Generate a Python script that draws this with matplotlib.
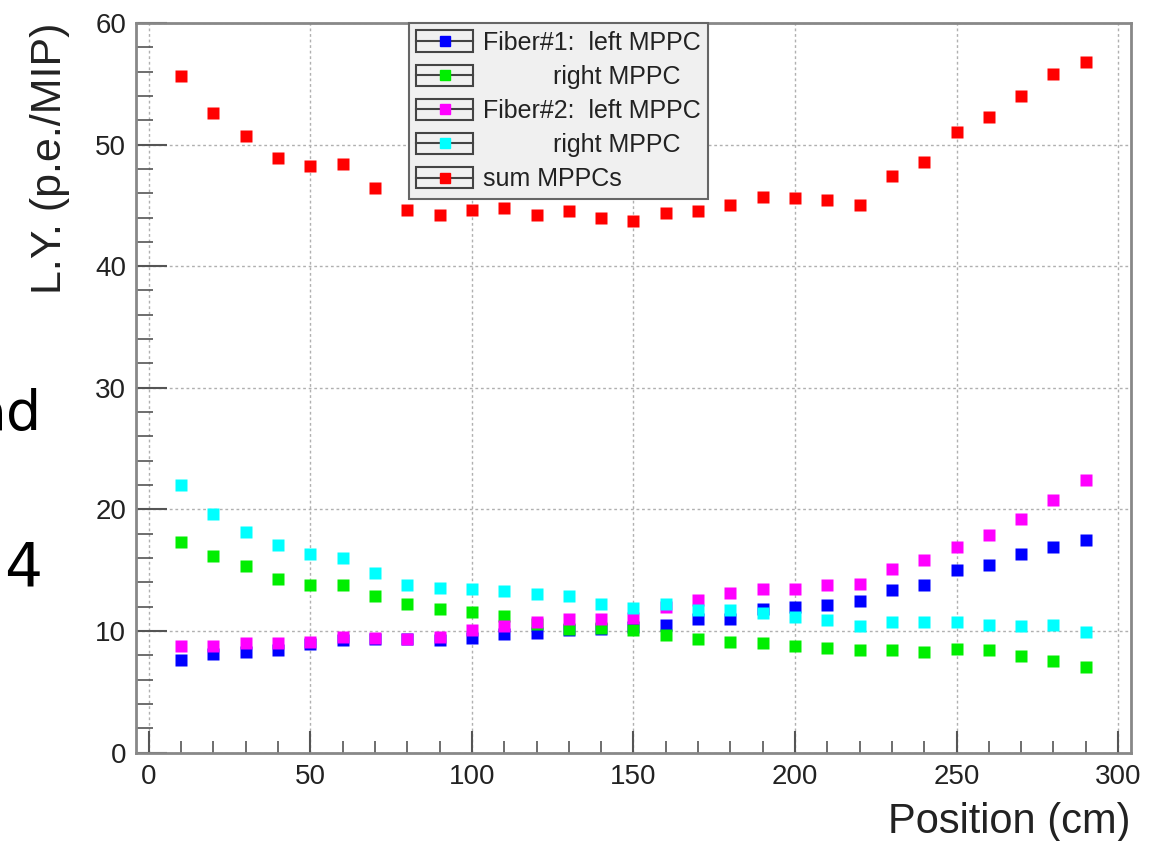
import matplotlib
matplotlib.use('Agg')
import matplotlib.pyplot as plt
from matplotlib.legend_handler import HandlerBase
from matplotlib.patches import Rectangle
from matplotlib.lines import Line2D
from matplotlib.ticker import MultipleLocator

plt.rcParams['font.family'] = ['Liberation Sans', 'DejaVu Sans']

# positions along the fiber (cm)
position = [10, 20, 30, 40, 50, 60, 70, 80, 90, 100, 110, 120, 130, 140, 150,
            160, 170, 180, 190, 200, 210, 220, 230, 240, 250, 260, 270, 280, 290]

# light yield (p.e./MIP)
fiber1_left = [7.65, 8.1, 8.3, 8.45, 8.9, 9.25, 9.3, 9.35, 9.25, 9.4, 9.75, 9.85, 10.05, 10.2, 10.3,
               10.5, 11.0, 11.0, 11.8, 12.0, 12.1, 12.45, 13.35, 13.8, 15.0, 15.45, 16.35, 16.9, 17.45]
fiber1_right = [17.3, 16.2, 15.3, 14.3, 13.8, 13.8, 12.85, 12.25, 11.8, 11.55, 11.25, 10.6, 10.2, 10.25, 10.1,
                9.65, 9.3, 9.05, 9.0, 8.8, 8.6, 8.4, 8.4, 8.3, 8.5, 8.4, 7.95, 7.5, 7.05]
fiber2_left = [8.75, 8.75, 9.0, 9.0, 9.05, 9.5, 9.45, 9.3, 9.5, 10.1, 10.4, 10.7, 11.0, 11.0, 11.1,
               12.0, 12.55, 13.15, 13.45, 13.45, 13.8, 13.9, 15.1, 15.8, 16.9, 17.9, 19.2, 20.8, 22.4]
fiber2_right = [22.0, 19.6, 18.1, 17.1, 16.3, 16.0, 14.8, 13.8, 13.5, 13.45, 13.3, 13.0, 12.9, 12.2, 11.9,
                12.2, 11.75, 11.7, 11.5, 11.15, 10.9, 10.4, 10.7, 10.75, 10.7, 10.5, 10.4, 10.5, 9.9]
sum_mppc = [55.6, 52.6, 50.7, 48.9, 48.2, 48.4, 46.4, 44.6, 44.2, 44.6, 44.8, 44.2, 44.5, 44.0, 43.7,
            44.4, 44.5, 45.05, 45.7, 45.6, 45.4, 45.05, 47.4, 48.6, 51.0, 52.3, 54.0, 55.8, 56.8]

labels = ['Fiber#1:  left MPPC', '          right MPPC', 'Fiber#2:  left MPPC',
          '          right MPPC', 'sum MPPCs']
colors = ['#0000ff', '#00ee00', '#ff00ff', '#00ffff', '#ff0000']


class RootBox(HandlerBase):
    # ROOT-like legend entry: box, line through, marker in the middle
    def create_artists(self, legend, orig_handle, xdescent, ydescent,
                       width, height, fontsize, trans):
        x0, y0 = -xdescent, -ydescent
        mid = y0 + height / 2
        box = Rectangle((x0, y0), width, height, fill=False, ec='#444444',
                        lw=1.5, transform=trans)
        line = Line2D([x0, x0 + width], [mid, mid], color='#444444', lw=1.5,
                      transform=trans)
        mk = Line2D([x0 + width / 2], [mid], marker='s', ms=7, ls='none',
                    color=orig_handle.get_markerfacecolor(), transform=trans)
        return [box, line, mk]


fig = plt.figure(figsize=(11.62, 8.41), dpi=100)
ax = fig.add_axes([0.117, 0.1052, 0.9733 - 0.117, 0.9727 - 0.1052])

series = [fiber1_left, fiber1_right, fiber2_left, fiber2_right, sum_mppc]
handles = []
for ys, c, lab in zip(series, colors, labels):
    h, = ax.plot(position, ys, 's', color=c, ms=8.5, mec='none', label=lab, zorder=3)
    handles.append(h)

ax.set_xlim(-4, 304)
ax.set_ylim(0, 60)
ax.xaxis.set_major_locator(MultipleLocator(50))
ax.xaxis.set_minor_locator(MultipleLocator(10))
ax.yaxis.set_major_locator(MultipleLocator(10))
ax.yaxis.set_minor_locator(MultipleLocator(2))
ax.tick_params(which='both', direction='in', colors='#555555', labelcolor='#222222',
               top=False, right=False)
ax.tick_params(axis='y', which='major', length=22, width=1.5, labelsize=20, pad=7)
ax.tick_params(axis='y', which='minor', length=12, width=1.2)
ax.tick_params(axis='x', which='major', length=16, width=1.5, labelsize=20, pad=8)
ax.tick_params(axis='x', which='minor', length=9, width=1.2)
for sp in ax.spines.values():
    sp.set_color('#888888')
    sp.set_linewidth(2)

ax.grid(True, which='major', color='#b0b0b0', lw=1, linestyle=(0, (2, 2)))
ax.set_axisbelow(True)

ax.set_ylabel('L.Y. (p.e./MIP)', fontsize=31, loc='top', color='#222222', labelpad=18)
ax.set_xlabel('Position (cm)', fontsize=30, loc='right', color='#222222', labelpad=9)

leg = ax.legend(handles=handles, loc='upper left', bbox_to_anchor=(0.2744, 1.0),
                borderaxespad=0, fontsize=18, frameon=True, fancybox=False,
                handler_map={Line2D: RootBox()}, handlelength=2.25, handleheight=0.92,
                handletextpad=0.4, labelspacing=0.4, borderpad=0.3)
leg.get_frame().set_facecolor('#f0f0f0')
leg.get_frame().set_edgecolor('#666666')
leg.get_frame().set_linewidth(1.5)
leg.get_frame().set_alpha(1)
for t in leg.get_texts():
    t.set_color('#222222')

# leftover slide text at the left edge
fig.text(42 / 1162, 1 - 430 / 841, 'ad', fontsize=40, ha='right', va='baseline',
         family='DejaVu Sans')
fig.text(4 / 1162, 1 - 586 / 841, '4', fontsize=43, ha='left', va='baseline',
         family='DejaVu Sans')

fig.savefig('out.png', dpi=100)
